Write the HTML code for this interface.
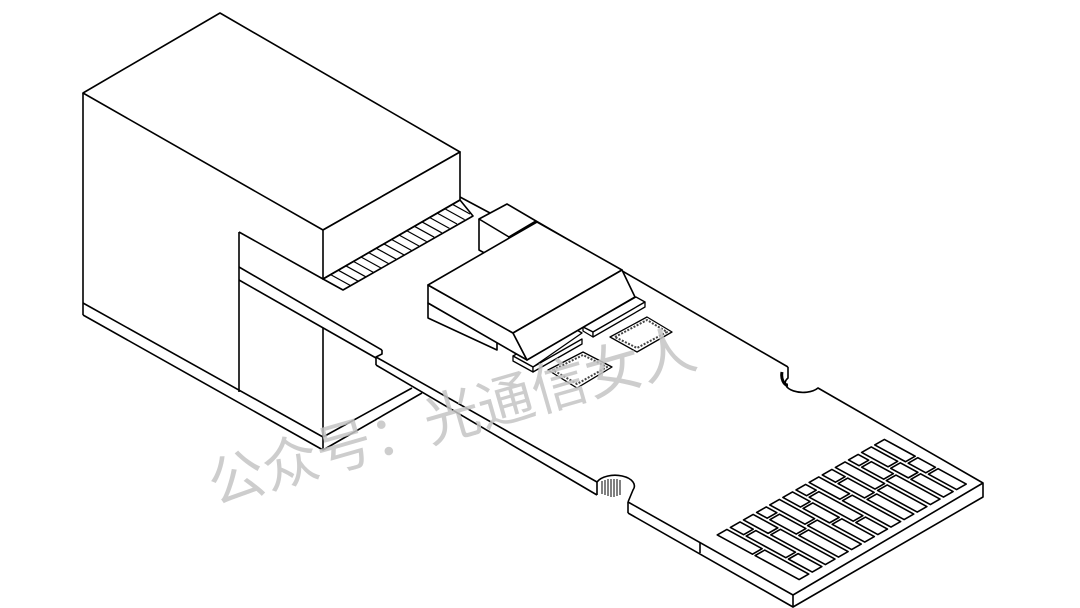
<!DOCTYPE html>
<html><head><meta charset="utf-8"><style>
html,body{margin:0;padding:0;background:#fff;width:1080px;height:608px;overflow:hidden}
svg{display:block}
</style></head><body>
<svg width="1080" height="608" viewBox="0 0 1080 608" xmlns="http://www.w3.org/2000/svg">
<g fill="none" stroke="#000" stroke-width="1.6" stroke-linejoin="round">
<!-- big module -->
<polygon points="83,93 220,13 460,152 323,230" fill="#fff"/>
<polygon points="323,230 460,152 460,200 323,279" fill="#fff"/>
<line x1="83" y1="93" x2="83" y2="315"/>
<line x1="83" y1="303" x2="323" y2="437"/>
<line x1="83" y1="315" x2="323" y2="450"/>
<line x1="323" y1="437" x2="323" y2="450"/>
<line x1="323" y1="437" x2="412" y2="388"/>
<line x1="323" y1="450" x2="422" y2="393"/>
<line x1="239" y1="232" x2="239" y2="392"/>
<line x1="239" y1="232" x2="323" y2="279"/>
<line x1="323" y1="328" x2="323" y2="437"/>
<!-- hatch strip -->
<polygon points="323,279 460,200 473,216 343,290"/>
<g stroke-width="1.2">
<line x1="330.6" y1="274.6" x2="350.6" y2="285.6"/><line x1="338.2" y1="270.2" x2="358.2" y2="281.2"/><line x1="345.8" y1="265.8" x2="365.8" y2="276.8"/><line x1="353.4" y1="261.4" x2="373.4" y2="272.4"/><line x1="361" y1="257" x2="381" y2="268"/><line x1="368.6" y1="252.6" x2="388.6" y2="263.6"/><line x1="376.2" y1="248.2" x2="396.2" y2="259.2"/><line x1="383.8" y1="243.8" x2="403.8" y2="254.8"/><line x1="391.4" y1="239.4" x2="411.4" y2="250.4"/><line x1="399" y1="235" x2="419" y2="246"/><line x1="406.6" y1="230.6" x2="426.6" y2="241.6"/><line x1="414.2" y1="226.2" x2="434.2" y2="237.2"/><line x1="421.8" y1="221.8" x2="441.8" y2="232.8"/><line x1="429.4" y1="217.4" x2="449.4" y2="228.4"/><line x1="437" y1="213" x2="457" y2="224"/><line x1="444.6" y1="208.6" x2="464.6" y2="219.6"/><line x1="452.2" y1="204.2" x2="470" y2="214"/>
</g>
<line x1="460" y1="197" x2="490" y2="213"/>
<!-- PCB inside module -->
<line x1="239" y1="267" x2="382" y2="350"/>
<line x1="239" y1="280" x2="376" y2="358"/>
<polyline points="382,350 382,354 376,357 376,365"/>
<!-- PCB outer -->
<line x1="376" y1="357" x2="597" y2="482"/>
<line x1="376" y1="365" x2="597" y2="495"/>
<line x1="536" y1="221" x2="788" y2="367"/>
<path d="M788,367 L788,378 A17 9 0 0 0 818,388 L983,483 L983,497 L793,607 L793,595 L983,483"/>
<path d="M782,372 A6 10 0 0 0 788,385" stroke-width="3"/>
<line x1="793" y1="595" x2="628" y2="502"/>
<line x1="793" y1="607" x2="628" y2="513"/>
<line x1="700" y1="543" x2="700" y2="553"/>
<line x1="628" y1="502" x2="628" y2="513"/>
<path d="M597,482 L597,495 M597,482 A18 10 0 0 1 633,490 L628,502"/>
<g stroke-width="1">
<line x1="602" y1="481" x2="602" y2="494"/><line x1="605" y1="480" x2="605" y2="495"/><line x1="608" y1="479" x2="608" y2="496"/><line x1="611" y1="479" x2="611" y2="497"/><line x1="614" y1="479" x2="614" y2="497"/><line x1="617" y1="479" x2="617" y2="496"/><line x1="620" y1="480" x2="620" y2="495"/>
</g>
<!-- small box -->
<polygon points="479,219 507,204 536,221 509,237" fill="#fff"/>
<polyline points="479,219 479,250 490,256"/>
<line x1="509" y1="237" x2="509" y2="248"/>
<!-- pads under chip -->
<g stroke-width="1.3" fill="#fff">
<polygon points="513,356 568,325 582,333 533,367"/>
<polygon points="513,356 513,361 533,372 533,367"/>
<polygon points="533,367 582,339 582,344 533,372"/>
<polygon points="583,327 636,297 645,302 593,332"/>
<polygon points="583,327 583,331 593,337 593,332"/>
<polygon points="593,332 645,302 645,307 593,337"/>
</g>
<!-- chip -->
<polygon points="428,303 497,342 497,350 428,318" fill="#fff"/>
<polygon points="428,285 428,303 513,352 527,360 513,333" fill="#fff"/>
<polygon points="428,285 537,222 622,270 513,333" fill="#fff"/>
<polygon points="622,270 635,297 527,360 513,333" fill="#fff"/>
<!-- QFN chips -->
<polygon points="548,370 583,352 612,367 577,388" stroke-width="1.3"/>
<polygon points="553,370 583,355 607,367 577,384" stroke="#444" stroke-dasharray="2 1.5" stroke-width="2"/>
<polygon points="610,337 647,317 672,332 637,352" stroke-width="1.3"/>
<polygon points="615,337 647,320 667,332 637,348" stroke="#444" stroke-dasharray="2 1.5" stroke-width="2"/>
<!-- contact pads -->
<g transform="matrix(0.88 0.48 1.75 -1.0 712 535)">
<g>
<rect x="3" y="1.5" width="40" height="5.5" vector-effect="non-scaling-stroke"/><rect x="46" y="1.5" width="50" height="5.5" vector-effect="non-scaling-stroke"/>
<rect x="3" y="9" width="15" height="5.5" vector-effect="non-scaling-stroke"/><rect x="21" y="9" width="45" height="5.5" vector-effect="non-scaling-stroke"/><rect x="69" y="9" width="27" height="5.5" vector-effect="non-scaling-stroke"/>
<rect x="3" y="16.5" width="28" height="5.5" vector-effect="non-scaling-stroke"/><rect x="34" y="16.5" width="62" height="5.5" vector-effect="non-scaling-stroke"/>
<rect x="3" y="24" width="12" height="5.5" vector-effect="non-scaling-stroke"/><rect x="18" y="24" width="30" height="5.5" vector-effect="non-scaling-stroke"/><rect x="51" y="24" width="45" height="5.5" vector-effect="non-scaling-stroke"/>
<rect x="3" y="31.5" width="40" height="5.5" vector-effect="non-scaling-stroke"/><rect x="46" y="31.5" width="50" height="5.5" vector-effect="non-scaling-stroke"/>
<rect x="3" y="39" width="20" height="5.5" vector-effect="non-scaling-stroke"/><rect x="26" y="39" width="30" height="5.5" vector-effect="non-scaling-stroke"/><rect x="59" y="39" width="37" height="5.5" vector-effect="non-scaling-stroke"/>
<rect x="3" y="46.5" width="12" height="5.5" vector-effect="non-scaling-stroke"/><rect x="18" y="46.5" width="50" height="5.5" vector-effect="non-scaling-stroke"/><rect x="71" y="46.5" width="25" height="5.5" vector-effect="non-scaling-stroke"/>
<rect x="3" y="54" width="35" height="5.5" vector-effect="non-scaling-stroke"/><rect x="41" y="54" width="55" height="5.5" vector-effect="non-scaling-stroke"/>
<rect x="3" y="61.5" width="15" height="5.5" vector-effect="non-scaling-stroke"/><rect x="21" y="61.5" width="30" height="5.5" vector-effect="non-scaling-stroke"/><rect x="54" y="61.5" width="42" height="5.5" vector-effect="non-scaling-stroke"/>
<rect x="3" y="69" width="45" height="5.5" vector-effect="non-scaling-stroke"/><rect x="51" y="69" width="45" height="5.5" vector-effect="non-scaling-stroke"/>
<rect x="3" y="76.5" width="12" height="5.5" vector-effect="non-scaling-stroke"/><rect x="18" y="76.5" width="25" height="5.5" vector-effect="non-scaling-stroke"/><rect x="46" y="76.5" width="50" height="5.5" vector-effect="non-scaling-stroke"/>
<rect x="3" y="84" width="30" height="5.5" vector-effect="non-scaling-stroke"/><rect x="36" y="84" width="20" height="5.5" vector-effect="non-scaling-stroke"/><rect x="59" y="84" width="37" height="5.5" vector-effect="non-scaling-stroke"/>
<rect x="3" y="91.5" width="35" height="5.5" vector-effect="non-scaling-stroke"/><rect x="41" y="91.5" width="20" height="5.5" vector-effect="non-scaling-stroke"/><rect x="64" y="91.5" width="32" height="5.5" vector-effect="non-scaling-stroke"/>
</g>
</g>
</g>
<text x="0" y="0" transform="translate(215,505) rotate(-16)" font-family="'Liberation Sans','Noto Sans CJK SC',sans-serif" font-size="56" fill="#c4c4c4" fill-opacity="0.85">公众号：光通信女人</text>
</svg>
</body></html>
